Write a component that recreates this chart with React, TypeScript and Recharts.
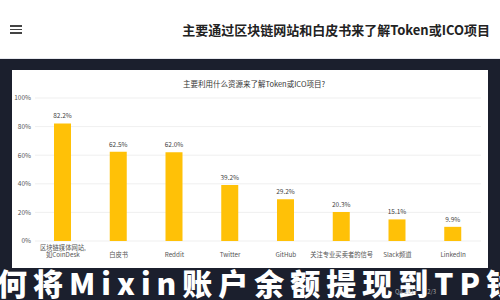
import React from "react";
import { BarChart, Bar, XAxis, YAxis, CartesianGrid, LabelList } from "recharts";

const categories = [
  "区块链媒体网站,\n如CoinDesk",
  "白皮书",
  "Reddit",
  "Twitter",
  "GitHub",
  "关注专业买卖者的信号",
  "Slack频道",
  "LinkedIn",
];
const shares = [82.2, 62.5, 62.0, 39.2, 29.2, 20.3, 15.1, 9.9];
const yTicks = [0, 20, 40, 60, 80, 100];

const pageTitle = "主要通过区块链网站和白皮书来了解Token或ICO项目";
const chartTitle = "主要利用什么资源来了解Token或ICO项目?";
const overlayText = "何将Mixin账户余额提现到TP钱";
const footerText = "Q4 2017   |   2/3";

const data = categories.map((c, i) => ({ name: c, value: shares[i] }));

const FONT = '"Noto Sans CJK SC", "Noto Sans", sans-serif';

const XTick = (props: any) => {
  const { x, y, payload } = props;
  const lines = String(payload.value).split("\n");
  const n = lines.length;
  return (
    <g>
      {lines.map((l: string, i: number) => (
        <text
          key={i}
          x={x}
          y={y + 16 - (n - 1 - i) * 7}
          textAnchor="middle"
          fontSize={6.3}
          fill="#555"
          fontFamily={FONT}
        >
          {l}
        </text>
      ))}
    </g>
  );
};

export default function App() {
  return (
    <div
      style={{
        position: "fixed",
        left: 0,
        top: 0,
        width: 500,
        height: 300,
        overflow: "hidden",
        background: "#1b1f2d",
        fontFamily: FONT,
      }}
    >
      {/* header */}
      <div
        style={{
          position: "absolute",
          left: 0,
          top: 0,
          width: 500,
          height: 58,
          background: "#ffffff",
          borderBottom: "1px solid #e6e8ee",
        }}
      >
        <div style={{ position: "absolute", left: 10, top: 25, width: 12 }}>
          {[0, 1, 2].map((i) => (
            <div
              key={i}
              style={{ height: 1.5, background: "#444", marginBottom: 2.2 }}
            />
          ))}
        </div>
        <div
          style={{
            position: "absolute",
            right: 10,
            top: 20,
            fontSize: 13,
            fontWeight: 700,
            color: "#222",
            whiteSpace: "nowrap",
          }}
        >
          {pageTitle}
        </div>
      </div>

      {/* white panel */}
      <div
        style={{
          position: "absolute",
          left: 12,
          top: 70,
          width: 476,
          height: 198,
          background: "#ffffff",
        }}
      />
      <div
        style={{
          position: "absolute",
          left: 0,
          width: 500,
          top: 78,
          textAlign: "center",
          fontSize: 7.5,
          color: "#333",
          whiteSpace: "nowrap",
          paddingLeft: 4,
        }}
      >
        {chartTitle}
      </div>

      <div style={{ position: "absolute", left: 0, top: 0 }}>
        <BarChart
          width={500}
          height={300}
          data={data}
          margin={{ top: 98, right: 19, bottom: 29, left: 5 }}
          barSize={17}
        >
          <CartesianGrid vertical={false} stroke="#ebebeb" strokeWidth={0.8} />
          <XAxis
            dataKey="name"
            axisLine={false}
            tickLine={false}
            tickSize={0}
            tickMargin={0}
            height={30}
            interval={0}
            tick={<XTick />}
          />
          <YAxis
            domain={[0, 100]}
            ticks={yTicks}
            width={30}
            axisLine={false}
            tickLine={false}
            tickSize={3}
            tickMargin={1}
            tickFormatter={(v: number) => `${v}%`}
            tick={{ fontSize: 6.5, fill: "#555", fontFamily: FONT }}
          />
          <Bar dataKey="value" fill="#FFC107" isAnimationActive={false}>
            <LabelList
              dataKey="value"
              position="top"
              offset={5}
              formatter={(v: any) => `${Number(v).toFixed(1)}%`}
              style={{ fontSize: 6.5, fill: "#444", fontFamily: FONT }}
            />
          </Bar>
        </BarChart>
      </div>

      {/* overlay headline */}
      <div
        style={{
          position: "absolute",
          left: -3,
          top: 265,
          fontSize: 30,
          fontWeight: 900,
          color: "#ffffff",
          whiteSpace: "nowrap",
          letterSpacing: 6,
          lineHeight: "34px",
        }}
      >
        {overlayText}
      </div>
      <div
        style={{
          position: "absolute",
          left: 395,
          top: 287,
          fontSize: 6,
          color: "#aaa",
          whiteSpace: "pre",
        }}
      >
        {footerText}
      </div>
    </div>
  );
}
